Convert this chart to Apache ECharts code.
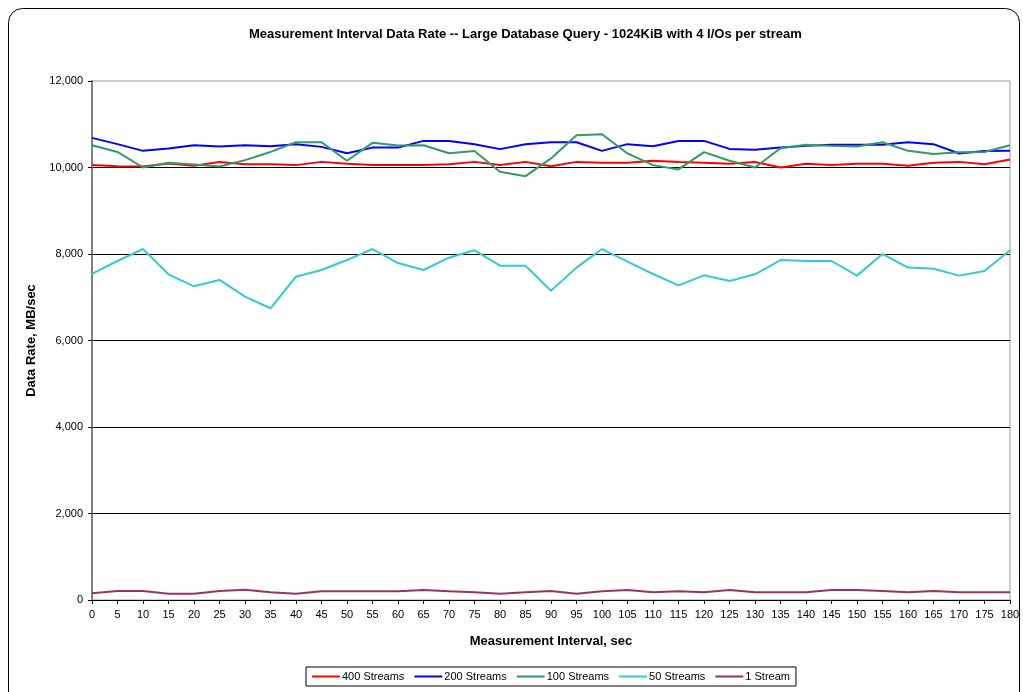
<!DOCTYPE html>
<html>
<head>
<meta charset="utf-8">
<script src="https://cdn.jsdelivr.net/npm/echarts@6/dist/echarts.min.js"></script>
<style>
  html, body { margin: 0; padding: 0; background: #fff; }
  #chart { width: 1023px; height: 692px; }
</style>
</head>
<body>
<div id="chart"></div>
<script>
// Measurement interval (sec), one sample every 5 seconds
const intervals = [0,5,10,15,20,25,30,35,40,45,50,55,60,65,70,75,80,85,90,95,100,105,110,115,120,125,130,135,140,145,150,155,160,165,170,175,180];

// Data rate, MB/sec, per stream count
const streams400 = [10055,10030,10025,10090,10040,10125,10075,10075,10055,10130,10085,10055,10055,10055,10075,10130,10060,10130,10030,10130,10110,10110,10155,10130,10110,10085,10125,10000,10085,10060,10085,10085,10040,10110,10130,10075,10185];
const streams200 = [10685,10540,10385,10440,10515,10485,10515,10490,10540,10477,10330,10460,10460,10615,10615,10540,10425,10540,10585,10585,10385,10540,10490,10615,10615,10430,10410,10460,10500,10525,10525,10525,10585,10540,10325,10380,10385];
const streams100 = [10515,10360,10000,10110,10070,10025,10170,10360,10585,10585,10155,10570,10510,10515,10330,10380,9900,9800,10210,10745,10770,10325,10055,9955,10355,10155,10000,10445,10525,10500,10485,10585,10385,10310,10355,10360,10515];
const streams50 = [7538,7838,8115,7530,7253,7400,7015,6745,7475,7630,7860,8115,7790,7630,7915,8085,7730,7730,7150,7685,8115,7823,7538,7276,7507,7376,7530,7860,7838,7838,7500,8000,7685,7660,7500,7607,8085];
const streams1 = [154,208,208,146,146,208,239,177,146,200,200,200,200,231,200,177,146,177,208,146,200,231,177,200,177,231,177,177,177,231,231,208,177,208,177,177,177];

const seriesNames = ['400 Streams','200 Streams','100 Streams','50 Streams','1 Stream'];
const seriesColors = ['#ff0000','#0000ff','#339966','#33cccc','#993366'];
const seriesData = [streams400, streams200, streams100, streams50, streams1];

const FONT = '"Liberation Sans", Arial, sans-serif';

const chart = echarts.init(document.getElementById('chart'), null, { renderer: 'canvas' });

const series = seriesNames.map((name, i) => ({
  name: name,
  type: 'line',
  data: intervals.map((x, j) => [x, seriesData[i][j]]),
  symbol: 'none',
  lineStyle: { color: seriesColors[i], width: 2 },
  itemStyle: { color: seriesColors[i] },
  animation: false,
  z: 3 + i
}));

chart.setOption({
  backgroundColor: '#ffffff',
  animation: false,
  title: {
    text: 'Measurement Interval Data Rate -- Large Database Query - 1024KiB with 4 I/Os per stream',
    left: 244,
    top: 23,
    textStyle: { fontFamily: FONT, fontSize: 13, fontWeight: 'bold', color: '#000' }
  },
  graphic: [{
    type: 'rect',
    shape: { x: 8.5, y: 8.5, width: 1011, height: 700, r: 14 },
    style: { fill: 'none', stroke: '#000', lineWidth: 1 },
    silent: true,
    z: -1
  }],
  legend: {
    data: seriesNames,
    left: 306,
    top: 667,
    width: 490,
    padding: [4, 6, 4, 6],
    itemGap: 10,
    itemWidth: 28,
    itemHeight: 2,
    borderColor: '#000',
    borderWidth: 1,
    borderRadius: 0,
    icon: 'rect',
    textStyle: { fontFamily: FONT, fontSize: 11, color: '#000', padding: [0, 0, 0, -3] }
  },
  grid: {
    left: 92,
    right: 13,
    top: 81,
    bottom: 92,
    show: true,
    borderColor: '#9a9a9a',
    borderWidth: 1
  },
  xAxis: {
    type: 'value',
    min: 0,
    max: 180,
    interval: 5,
    name: 'Measurement Interval, sec',
    nameLocation: 'middle',
    nameGap: 35,
    nameTextStyle: { fontFamily: FONT, fontSize: 13, fontWeight: 'bold', color: '#000' },
    axisLine: { show: true, onZero: false, lineStyle: { color: '#000', width: 1 } },
    axisTick: { show: true, inside: false, length: 4, lineStyle: { color: '#000' } },
    axisLabel: { fontFamily: FONT, fontSize: 11, color: '#000', margin: 9 },
    splitLine: { show: false }
  },
  yAxis: {
    type: 'value',
    min: 0,
    max: 12000,
    interval: 2000,
    name: 'Data Rate, MB/sec',
    nameLocation: 'middle',
    nameGap: 54,
    nameTextStyle: { fontFamily: FONT, fontSize: 13, fontWeight: 'bold', color: '#000' },
    axisLine: { show: true, lineStyle: { color: '#808080', width: 2 } },
    axisTick: { show: true, length: 4, lineStyle: { color: '#000' } },
    axisLabel: {
      fontFamily: FONT, fontSize: 11, color: '#000', margin: 9,
      formatter: v => v.toLocaleString('en-US')
    },
    splitLine: { show: true, showMaxLine: false, lineStyle: { color: '#000', width: 1 } }
  },
  series: series
});
</script>
</body>
</html>
